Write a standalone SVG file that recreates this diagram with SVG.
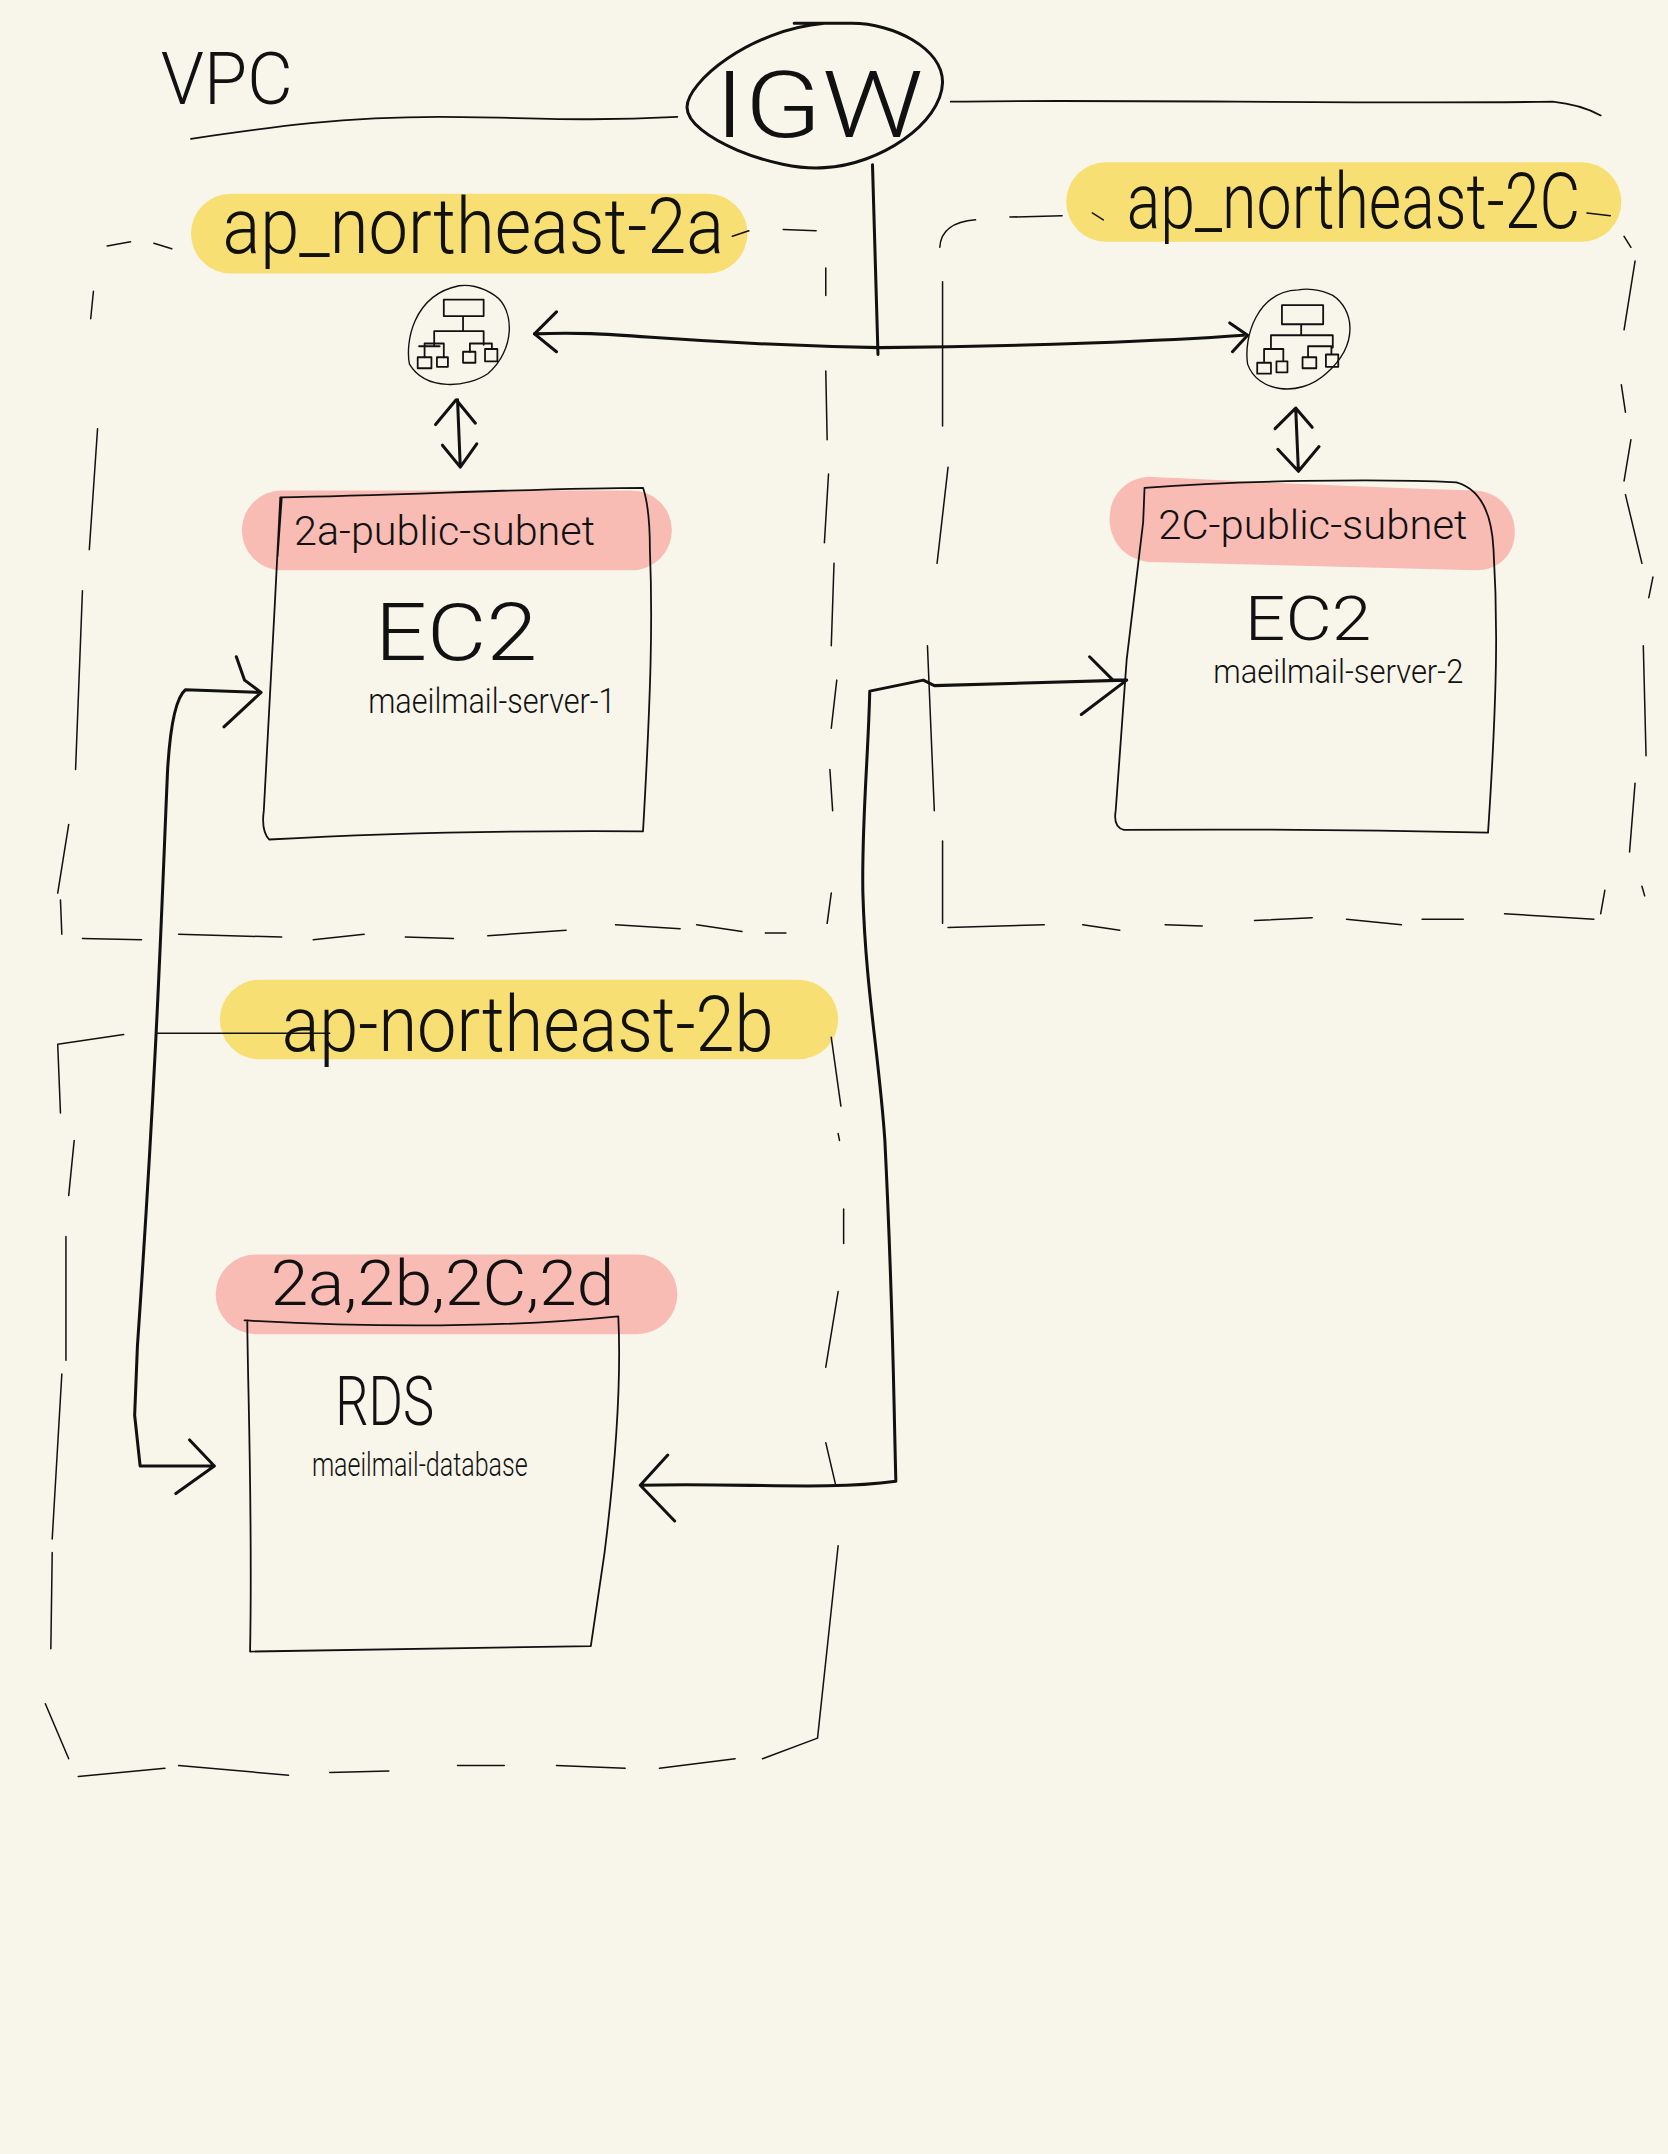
<svg xmlns="http://www.w3.org/2000/svg" width="1668" height="2154" viewBox="0 0 1668 2154">
<style>
.l{fill:none;stroke:#111;stroke-linecap:round;stroke-linejoin:round}
.t1{stroke-width:1}.t2{stroke-width:1.3}.t3{stroke-width:2.2}.t4{stroke-width:2.8}
.d{stroke-width:1.1}
.y{fill:#f7df74}.p{fill:#f8bcb4}
text{font-family:"Roboto","Liberation Sans",sans-serif;fill:#111;font-weight:300}
</style>
<rect width="1668" height="2154" fill="#f8f6ea"/>
<g transform="scale(1.374)">
<g id="labels-bg">
<rect class="y" x="139" y="141" width="405" height="58" rx="29"/>
<rect class="y" x="776" y="118" width="404" height="58" rx="29"/>
<rect class="y" x="160" y="713" width="450" height="58" rx="29"/>
<rect class="p" x="176" y="357" width="313" height="58" rx="29"/>
<path class="p" d="M836 347C900 350 1000 355 1074 357C1112 360 1112 415 1074 415L836 409C798 405 798 350 836 347Z"/>
<rect class="p" x="157" y="913" width="336" height="58" rx="29"/>
</g>
<g id="vpc">
<text x="117" y="76" font-size="52" textLength="96" lengthAdjust="spacingAndGlyphs">VPC</text>
<path class="l t2" d="M139 101C200 92 250 85 320 85C380 85 420 89 493 85"/>
<path class="l t2" d="M692 74C800 72 1000 76 1130 74Q1150 76 1165 84"/>
</g>
<g id="igw">
<path class="l t3" d="M600 17C545 22 500 60 500 78C500 100 565 125 600 122C640 120 685 90 686 60C686 35 650 17 620 17L578 17"/>
<text x="520" y="100" font-size="68" textLength="152" lengthAdjust="spacingAndGlyphs">IGW</text>
</g>
<g id="zone-2a">
<path class="l d" d="M78 179L95 176M112 177L125 181M533 172L545 168M570 167L594 168M601 195L601 215M601 270L602 320M603 345L600 395M607 410L605 470M609 495L605 530M604 560L606 590M605 650L602 672M68 212L66 232M71 312L65 400M60 430L55 560M50 600L42 650M44 655L45 680M60 683L103 684M130 680L205 682M228 684L265 680M295 682L330 683M355 681L412 677M448 673L495 676M507 673L540 678M557 679L572 679"/>
<text x="162" y="184" font-size="56" textLength="365" lengthAdjust="spacingAndGlyphs">ap_northeast-2a</text>
</g>
<g id="zone-2c">
<path class="l d" d="M684 180Q685 162 710 160M735 158L773 157M795 155L803 160M1155 155L1172 157M1182 172L1187 180M1190 190L1182 240M1180 280L1183 300M1187 320L1182 350M1183 360L1195 410M1203 420L1200 435M1196 470L1198 550M1190 570L1186 620M1168 648L1165 665M1195 645L1197 652M686 205L686 310M690 340L682 410M675 470L680 590M686 612L686 672M690 675L760 673M788 673L815 677M848 673L875 674M913 670L955 668M980 669L1020 673M1035 669L1065 669M1095 665L1160 669"/>
<text transform="translate(820 166) scale(.74 1)" x="0" y="0" font-size="56" textLength="446" lengthAdjust="spacingAndGlyphs">ap_northeast-2C</text>
</g>
<g id="zone-2b">
<path class="l d" d="M90 753L42 760L44 810M54 830L50 870M48 900L48 990M45 1000L38 1120M38 1130L37 1200M33 1240L50 1280M57 1293L120 1287M130 1285L210 1292M240 1290L283 1289M333 1285L367 1285M405 1285L455 1287M480 1287L535 1280M555 1280L595 1265L610 1125M605 755L612 805M610 825L611 830M614 880L614 905M610 940L601 995M601 1050L608 1080"/>
<text x="205" y="765" font-size="56" textLength="358" lengthAdjust="spacingAndGlyphs">ap-northeast-2b</text>
<path class="l t1" d="M114 752L240 752"/>
</g>
<g id="router-a">
<path class="l t1" d="M334 208C300 215 295 250 298 265C310 285 340 282 355 272C375 255 375 225 360 215C350 208 340 207 334 208Z"/>
<path class="l t2" d="M323 218H352V230H323ZM337 230V237M316 251V241H352V251M337 237V241M305 252H320M304 260H314V268H304ZM318 260H326V267H318ZM337 256H346V264H337ZM353 254H362V263H353Z"/>
<path class="l t2" d="M309 260V250H323V260M342 256V250H358V254"/>
</g>
<g id="router-c">
<path class="l t1" d="M945 211C915 212 905 245 908 265C915 285 945 290 965 272C990 250 985 225 970 215C960 210 950 210 945 211Z"/>
<path class="l t2" d="M933 222H963V236H933ZM947 236V243M925 253V244H970V253M920 263V254H934V263M915 264H925V272H915ZM929 263H937V271H929ZM948 260H958V268H948ZM965 258H974V267H965ZM952 260V252H969V258"/>
</g>
<g id="subnet-2a">
<path class="l t2" d="M205 363L202 405M204 362C300 360 400 355 468 355Q473 370 473 400C475 450 474 500 468 605Q320 604 196 611Q190 605 192 590L200 440L204 362"/>
<text x="214" y="397" font-size="30" textLength="219" lengthAdjust="spacingAndGlyphs">2a-public-subnet</text>
<text x="273" y="480" font-size="58" textLength="118" lengthAdjust="spacingAndGlyphs">EC2</text>
<text x="268" y="519" font-size="25" textLength="180" lengthAdjust="spacingAndGlyphs">maeilmail-server-1</text>
</g>
<g id="subnet-2c">
<path class="l t2" d="M833 355C900 350 1000 348 1060 351Q1085 358 1087 400C1090 450 1090 500 1083 606Q950 603 818 604Q810 602 812 590L820 480L832 380Z"/>
<text x="843" y="392" font-size="30" textLength="225" lengthAdjust="spacingAndGlyphs">2C-public-subnet</text>
<text x="906" y="466" font-size="44" textLength="92" lengthAdjust="spacingAndGlyphs">EC2</text>
<text x="883" y="497" font-size="24" textLength="182" lengthAdjust="spacingAndGlyphs">maeilmail-server-2</text>
</g>
<g id="rds">
<path class="l t2" d="M178 961C250 965 350 968 450 958C452 1000 450 1050 440 1130L430 1198L182 1202C184 1100 180 1000 180 961"/>
<text x="197" y="950" font-size="46" textLength="250" lengthAdjust="spacingAndGlyphs">2a,2b,2C,2d</text>
<text x="244" y="1037" font-size="50" textLength="72" lengthAdjust="spacingAndGlyphs">RDS</text>
<text x="227" y="1074" font-size="24" textLength="157" lengthAdjust="spacingAndGlyphs">maeilmail-database</text>
</g>
<g id="connectors">
<path class="l t3" d="M635 120L639 258"/>
<path class="l t3" d="M389 243C450 240 480 250 640 253C750 252 850 248 905 244"/>
<path class="l t3" d="M405 227L389 243L405 256M895 235L908 244L897 256"/>
<path class="l t3" d="M333 291L335 340M317 309L332 291L346 308M322 324L335 340L347 323"/>
<path class="l t3" d="M943 297L945 343M928 312L943 297L955 311M930 327L945 343L960 325"/>
<path class="l t3" d="M190 504L135 502Q125 510 122 560C118 650 115 760 100 980L98 1030L102 1067L155 1067M172 478L178 495L190 504L163 529M138 1048L156 1067L128 1087"/>
<path class="l t3" d="M820 495L680 499L672 495L633 503C632 550 627 600 628 650C630 720 640 770 644 830C650 950 650 1000 652 1078C600 1085 540 1079 466 1081M793 478L810 495L820 495L787 520M486 1059L466 1081L491 1107"/>
</g>
</g>
</svg>
